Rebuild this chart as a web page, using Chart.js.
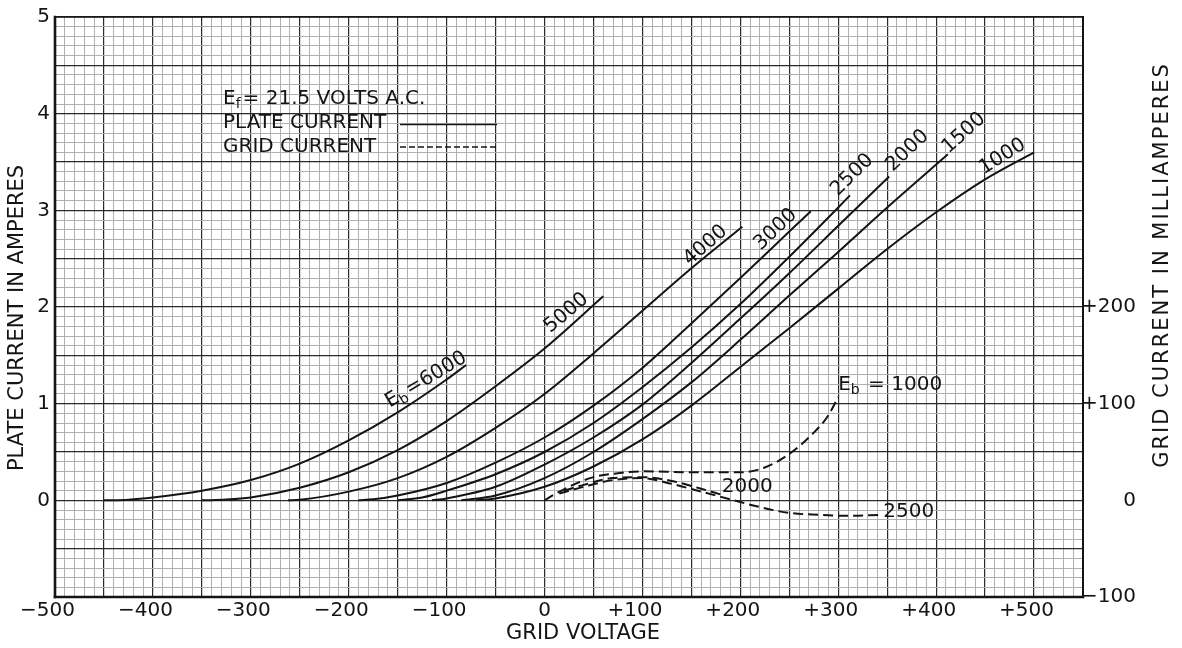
<!DOCTYPE html>
<html>
<head>
<meta charset="utf-8">
<script src="https://cdn.jsdelivr.net/npm/chart.js@4/dist/chart.umd.min.js"></script>
<style>
  html, body { margin: 0; padding: 0; background: #fff; }
  canvas { display: block; }
</style>
</head>
<body>
<canvas id="chart" width="1182" height="648"></canvas>
<script>
// Plate current (amperes) against grid voltage, one curve per plate voltage Eb
const eb6000Volts = [-450, -425, -400, -350, -300, -250, -200, -150, -100, -80];
const eb6000Amps  = [0, 0.007, 0.03, 0.10, 0.21, 0.38, 0.62, 0.91, 1.25, 1.40];

const eb5000Volts = [-350, -325, -300, -250, -200, -150, -100, -50, 0, 60];
const eb5000Amps  = [0, 0.008, 0.03, 0.13, 0.29, 0.52, 0.82, 1.18, 1.57, 2.11];

const eb4000Volts = [-262, -250, -200, -150, -100, -50, 0, 50, 100, 150, 202];
const eb4000Amps  = [0, 0.005, 0.09, 0.23, 0.45, 0.75, 1.10, 1.52, 1.96, 2.40, 2.83];

const eb3000Volts = [-190, -175, -150, -100, -50, 0, 50, 100, 150, 200, 250, 272];
const eb3000Amps  = [0, 0.01, 0.05, 0.18, 0.39, 0.65, 0.98, 1.37, 1.83, 2.30, 2.78, 2.99];

const eb2500Volts = [-150, -125, -100, -50, 0, 50, 100, 150, 200, 250, 300, 312];
const eb2500Amps  = [0, 0.03, 0.10, 0.27, 0.50, 0.80, 1.17, 1.58, 2.03, 2.52, 3.03, 3.155];

const eb2000Volts = [-115, -100, -50, 0, 50, 100, 150, 200, 250, 300, 352];
const eb2000Amps  = [0, 0.02, 0.14, 0.37, 0.65, 0.99, 1.42, 1.88, 2.35, 2.84, 3.35];

const eb1500Volts = [-85, -50, 0, 50, 100, 150, 200, 250, 300, 350, 412];
const eb1500Amps  = [0, 0.05, 0.23, 0.50, 0.84, 1.22, 1.66, 2.12, 2.57, 3.03, 3.58];

const eb1000Volts = [-70, -50, 0, 50, 100, 150, 200, 250, 300, 350, 400, 450, 500];
const eb1000Amps  = [0, 0.02, 0.14, 0.35, 0.63, 0.98, 1.38, 1.78, 2.19, 2.60, 2.98, 3.32, 3.60];

// Grid current (milliamperes) against grid voltage
const grid1000Volts = [0, 10, 25, 50, 75, 100, 150, 200, 225, 250, 275, 290, 300];
const grid1000mA    = [0, 6, 14, 24, 28, 30, 29, 29, 34, 48, 70, 88, 107];

const grid2000Volts = [20, 40, 70, 100, 130, 160, 180];
const grid2000mA    = [10, 16, 23, 24, 20, 12, 6];

const grid2500Volts = [15, 40, 70, 100, 130, 160, 190, 220, 250, 280, 310, 345];
const grid2500mA    = [7, 14, 21, 23, 17, 9, 1, -7, -13, -15, -16, -15];

// Axis ranges and labelled ticks
const gridVoltageRange = [-500, 550];
const plateAmpRange = [-1, 5];
const gridMilliampRange = [-100, 500];
const voltageTickLabels = [-500, -400, -300, -200, -100, 0, 100, 200, 300, 400, 500];
const plateTickLabels = [0, 1, 2, 3, 4, 5];
const gridCurrentTickLabels = [-100, 0, 100, 200];

const FAMILY = '"DejaVu Sans", "Liberation Sans", sans-serif';
const INK = '#141414';

const toPoints = (xs, ys) => xs.map((x, i) => ({ x, y: ys[i] }));

function plateSet(xs, ys) {
  return { data: toPoints(xs, ys), yAxisID: 'y', borderColor: INK, borderWidth: 2,
           pointRadius: 0, cubicInterpolationMode: 'monotone', fill: false };
}
function gridSet(xs, ys) {
  return { data: toPoints(xs, ys), yAxisID: 'y2', borderColor: INK, borderWidth: 2,
           borderDash: [10, 5], pointRadius: 0, cubicInterpolationMode: 'monotone', fill: false };
}

const datasets = [
  plateSet(eb6000Volts, eb6000Amps),   // 0
  plateSet(eb5000Volts, eb5000Amps),   // 1
  plateSet(eb4000Volts, eb4000Amps),   // 2
  plateSet(eb3000Volts, eb3000Amps),   // 3
  plateSet(eb2500Volts, eb2500Amps),   // 4
  plateSet(eb2000Volts, eb2000Amps),   // 5
  plateSet(eb1500Volts, eb1500Amps),   // 6
  plateSet(eb1000Volts, eb1000Amps),   // 7
  gridSet(grid1000Volts, grid1000mA),  // 8
  gridSet(grid2000Volts, grid2000mA),  // 9
  gridSet(grid2500Volts, grid2500mA)   // 10
];

// Text pieces: plain runs and subscript runs
const E_B = [{ t: 'E' }, { t: 'b', sub: true }];

// Labels riding along the end of each plate-current curve
// along/perp are pixel offsets from the curve's last point (along the line, and above it)
const plateCurveLabels = [
  { set: 0, parts: [...E_B, { t: '=6000' }], angle: 31, along: -43, perp: 8 },
  { set: 1, parts: [{ t: '5000' }], angle: 40, along: -39, perp: 11 },
  { set: 2, parts: [{ t: '4000' }], angle: 41, along: -40, perp: 10 },
  { set: 3, parts: [{ t: '3000' }], angle: 43.5, along: -38, perp: 11 },
  { set: 4, parts: [{ t: '2500' }], angle: 44.5, along: 16, perp: 13 },
  { set: 5, parts: [{ t: '2000' }], angle: 43.5, along: 31, perp: 6 },
  { set: 6, parts: [{ t: '1500' }], angle: 42, along: 26, perp: 5 },
  { set: 7, parts: [{ t: '1000' }], angle: 32, along: -29, perp: 13 }
];

// Horizontal labels at the end of each grid-current curve
const gridCurveLabels = [
  { set: 8, parts: [...E_B, { t: ' = 1000' }], dx: 0, dy: -12 },
  { set: 9, parts: [{ t: '2000' }], dx: 1, dy: -8 },
  { set: 10, parts: [{ t: '2500' }], dx: 1, dy: -3 }
];

function signed(v) {
  if (v > 0) return '+' + v;
  if (v < 0) return '\u2212' + Math.abs(v);
  return '0';
}

function richWidth(ctx, parts, size) {
  let w = 0;
  for (const p of parts) {
    ctx.font = (p.sub ? Math.round(size * 0.7) : size) + 'px ' + FAMILY;
    w += ctx.measureText(p.t).width;
  }
  return w;
}

// Draws runs of text starting at x, vertically centred on y
function drawRich(ctx, parts, x, y, size) {
  ctx.textBaseline = 'middle';
  ctx.textAlign = 'left';
  let cx = x;
  for (const p of parts) {
    const s = p.sub ? Math.round(size * 0.7) : size;
    ctx.font = s + 'px ' + FAMILY;
    ctx.fillText(p.t, cx, p.sub ? y + size * 0.28 : y);
    cx += ctx.measureText(p.t).width + (p.sub ? 2 : 0);
  }
}

const framePlugin = {
  id: 'frame',
  beforeDatasetsDraw(chart) {
    const { ctx, chartArea: a } = chart;
    ctx.save();
    ctx.strokeStyle = INK;
    ctx.lineCap = 'square';
    const seg = (x1, y1, x2, y2, w) => {
      ctx.lineWidth = w; ctx.beginPath(); ctx.moveTo(x1, y1); ctx.lineTo(x2, y2); ctx.stroke();
    };
    seg(a.left, a.top, a.left, a.bottom, 2.6);
    seg(a.left, a.bottom, a.right, a.bottom, 2.6);
    seg(a.left, a.top, a.right, a.top, 1.5);
    seg(a.right, a.top, a.right, a.bottom, 2);
    ctx.restore();
  }
};

const annotationPlugin = {
  id: 'annotations',
  afterDatasetsDraw(chart) {
    const ctx = chart.ctx;
    ctx.save();
    ctx.fillStyle = INK;

    // labels on plate-current curves
    for (const lab of plateCurveLabels) {
      const pts = chart.getDatasetMeta(lab.set).data;
      const end = pts[pts.length - 1];
      const a = lab.angle * Math.PI / 180;
      const ux = Math.cos(a), uy = -Math.sin(a);
      const nx = -Math.sin(a), ny = -Math.cos(a);
      const cx = end.x + lab.along * ux + lab.perp * nx;
      const cy = end.y + lab.along * uy + lab.perp * ny;
      const w = richWidth(ctx, lab.parts, 20);
      ctx.save();
      ctx.translate(cx, cy);
      ctx.rotate(-a);
      drawRich(ctx, lab.parts, -w / 2, 0, 20);
      ctx.restore();
    }

    // labels on grid-current curves
    for (const lab of gridCurveLabels) {
      const pts = chart.getDatasetMeta(lab.set).data;
      const end = pts[pts.length - 1];
      drawRich(ctx, lab.parts, end.x + lab.dx, end.y + lab.dy, 20);
    }

    // key
    drawRich(ctx, [{ t: 'E' }, { t: 'f', sub: true }, { t: '= 21.5 VOLTS A.C.' }], 223, 99, 20);
    drawRich(ctx, [{ t: 'PLATE CURRENT' }], 223, 123, 20);
    drawRich(ctx, [{ t: 'GRID CURRENT' }], 223, 147, 20);
    ctx.strokeStyle = INK;
    ctx.lineWidth = 1.6;
    ctx.beginPath(); ctx.moveTo(400, 124.5); ctx.lineTo(497, 124.5); ctx.stroke();
    ctx.setLineDash([6, 3]);
    ctx.beginPath(); ctx.moveTo(400, 147); ctx.lineTo(497, 147); ctx.stroke();
    ctx.setLineDash([]);
    ctx.restore();
  },
  afterDraw(chart) {
    const ctx = chart.ctx;
    ctx.save();
    ctx.fillStyle = INK;
    ctx.textBaseline = 'middle';
    ctx.textAlign = 'center';
    ctx.font = '21px ' + FAMILY;
    ctx.fillText('GRID VOLTAGE', 583, 634);

    ctx.save();
    ctx.translate(18, 318);
    ctx.rotate(-Math.PI / 2);
    ctx.fillText('PLATE CURRENT IN AMPERES', 0, 0);
    ctx.restore();

    ctx.save();
    ctx.translate(1163, 265);
    ctx.rotate(-Math.PI / 2);
    ctx.letterSpacing = '2px';
    ctx.fillText('GRID CURRENT IN MILLIAMPERES', 0, 0);
    ctx.restore();
    ctx.restore();
  }
};

const heavyX = v => Math.round(v) % 50 === 0;
const heavyY = v => Math.round(v * 10) % 5 === 0;

new Chart(document.getElementById('chart'), {
  type: 'line',
  data: { datasets },
  plugins: [framePlugin, annotationPlugin],
  options: {
    responsive: false,
    animation: false,
    devicePixelRatio: 1,
    layout: { padding: { top: 14, left: 0, right: 46, bottom: 0 } },
    plugins: { legend: { display: false }, tooltip: { enabled: false } },
    scales: {
      x: {
        type: 'linear',
        min: gridVoltageRange[0],
        max: gridVoltageRange[1],
        border: { display: false },
        grid: {
          drawTicks: false,
          color: c => heavyX(c.tick.value) ? '#2b2b2b' : '#b0b0b0',
          lineWidth: c => heavyX(c.tick.value) ? 1.2 : 1
        },
        ticks: {
          stepSize: 10,
          autoSkip: false,
          maxRotation: 0,
          minRotation: 0,
          padding: 2,
          color: INK,
          font: { family: FAMILY, size: 20 },
          callback: v => {
            const r = Math.round(v);
            if (!voltageTickLabels.includes(r)) return '';
            return r === 0 ? '0' : signed(r) + '\u2002\u2005';
          }
        },
        afterFit: s => { s.height = 51; }
      },
      y: {
        position: 'left',
        min: plateAmpRange[0],
        max: plateAmpRange[1],
        border: { display: false },
        grid: {
          drawTicks: false,
          color: c => heavyY(c.tick.value) ? '#2b2b2b' : '#b0b0b0',
          lineWidth: c => heavyY(c.tick.value) ? 1.2 : 1
        },
        ticks: {
          stepSize: 0.1,
          autoSkip: false,
          padding: 5,
          color: INK,
          font: { family: FAMILY, size: 20 },
          callback: v => {
            const r = Math.round(v * 10) / 10;
            return plateTickLabels.includes(r) ? String(r) : '';
          }
        },
        afterFit: s => { s.width = 55; }
      },
      y2: {
        position: 'right',
        min: gridMilliampRange[0],
        max: gridMilliampRange[1],
        border: { display: false },
        grid: { display: false, drawTicks: false },
        ticks: {
          stepSize: 100,
          autoSkip: false,
          padding: 0,
          crossAlign: 'far',
          color: INK,
          font: { family: FAMILY, size: 20 },
          callback: v => gridCurrentTickLabels.includes(Math.round(v)) ? signed(Math.round(v)) : ''
        },
        afterFit: s => { s.width = 53; }
      }
    }
  }
});
</script>
</body>
</html>
